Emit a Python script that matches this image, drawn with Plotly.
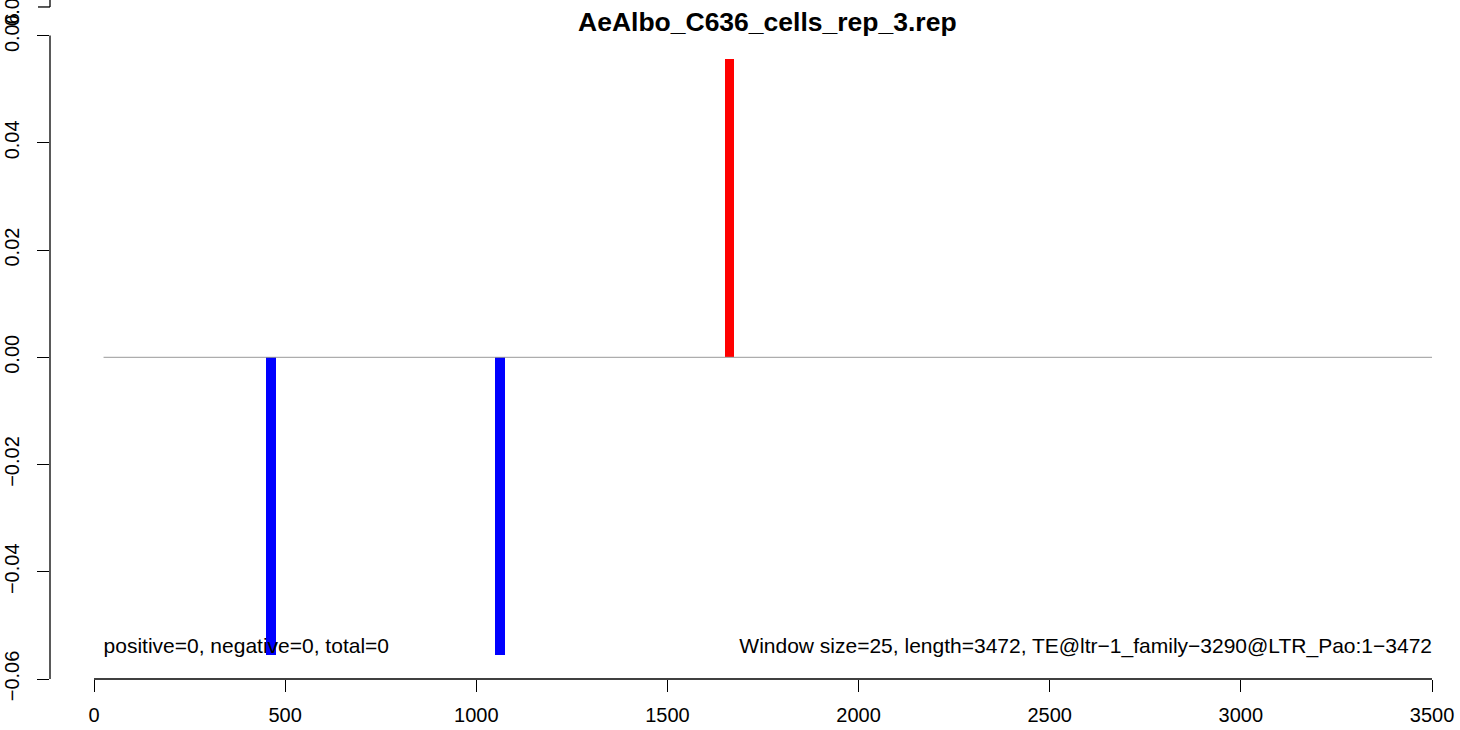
import plotly.graph_objects as go

# ---- data ----
title = "AeAlbo_C636_cells_rep_3.rep"
window_size = 25
seq_length = 3472
bar_pos = [462.5, 1062.5, 1662.5]
bar_val = [-0.0556, -0.0556, 0.0556]
bar_col = ["#0000FF", "#0000FF", "#FF0000"]
x_ticks = [0, 500, 1000, 1500, 2000, 2500, 3000, 3500]
y_ticks = [-0.06, -0.04, -0.02, 0.00, 0.02, 0.04, 0.06]
y_tick_text = ["\u22120.06", "\u22120.04", "\u22120.02", "0.00", "0.02", "0.04", "0.06"]
left_note = "positive=0, negative=0, total=0"
right_note = "Window size=25, length=3472, TE@ltr\u22121_family\u22123290@LTR_Pao:1\u22123472"
note_y = -0.0542

FONT = "Liberation Sans, Arial, Helvetica, sans-serif"
NOTE_SIZE = 21
TICK_SIZE = 20

fig = go.Figure()

# notes drawn first so bars sit on top of them
fig.add_trace(go.Scatter(
    x=[window_size], y=[note_y], mode="text", text=[left_note],
    textposition="middle right", textfont=dict(family=FONT, size=NOTE_SIZE, color="black"),
    hoverinfo="skip", showlegend=False, cliponaxis=False))
fig.add_trace(go.Scatter(
    x=[x_ticks[-1]], y=[note_y], mode="text", text=[right_note],
    textposition="middle left", textfont=dict(family=FONT, size=NOTE_SIZE, color="black"),
    hoverinfo="skip", showlegend=False, cliponaxis=False))

# zero line
fig.add_trace(go.Scatter(
    x=[window_size, x_ticks[-1]], y=[0, 0], mode="lines",
    line=dict(color="#999999", width=1), hoverinfo="skip", showlegend=False))

# bars
fig.add_trace(go.Bar(
    x=bar_pos, y=bar_val, width=window_size, marker=dict(color=bar_col, line=dict(width=0)),
    showlegend=False))

shapes = [
    dict(type="line", xref="x", yref="paper", x0=x_ticks[0], x1=x_ticks[-1], y0=0, y1=0,
         line=dict(color="black", width=1.3)),
    dict(type="line", xref="paper", yref="y", x0=0, x1=0, y0=y_ticks[0], y1=y_ticks[-1],
         line=dict(color="black", width=1.3)),
    # stray axis fragment above the plot region (as in reference)
    dict(type="line", xref="paper", yref="paper", x0=0, x1=0, y0=1.0419, y1=1.06,
         line=dict(color="black", width=1.3)),
    dict(type="line", xref="paper", yref="paper", x0=-12 / 1410, x1=0, y0=1.0419, y1=1.0419,
         line=dict(color="black", width=1.3)),
]

annotations = [
    dict(text="<b>" + title + "</b>", xref="paper", yref="paper", x=(768 - 50) / 1410, y=1.0,
         yshift=12, xanchor="center", yanchor="middle", showarrow=False,
         font=dict(family=FONT, size=26.5, color="black")),
    dict(text="0.06", xref="paper", yref="paper", x=-38 / 1410, y=1.0419, xanchor="center",
         yanchor="middle", textangle=-90, showarrow=False,
         font=dict(family=FONT, size=TICK_SIZE, color="black")),
]

fig.update_layout(
    width=1460, height=730,
    margin=dict(l=50, r=0, t=34, b=51),
    plot_bgcolor="white", paper_bgcolor="white",
    font=dict(family=FONT, size=TICK_SIZE, color="black"),
    shapes=shapes, annotations=annotations,
    bargap=0,
    xaxis=dict(range=[-115.1, 3573.2], tickmode="array", tickvals=x_ticks,
               ticktext=[str(v) for v in x_ticks], ticks="outside", ticklen=12,
               tickwidth=1.3, tickcolor="black", showgrid=False, zeroline=False,
               showline=False, tickfont=dict(family=FONT, size=TICK_SIZE), ticklabelstandoff=6),
    yaxis=dict(range=[-0.06, 0.0603], tickmode="array", tickvals=y_ticks,
               ticktext=y_tick_text, ticks="outside", ticklen=12, tickwidth=1.3,
               tickcolor="black", showgrid=False, zeroline=False, showline=False,
               tickangle=-90, tickfont=dict(family=FONT, size=TICK_SIZE), ticklabelstandoff=10),
)

fig.write_html("out.html", config={"displayModeBar": False},
               post_script="document.body.style.margin='0';document.body.style.overflow='hidden';")
